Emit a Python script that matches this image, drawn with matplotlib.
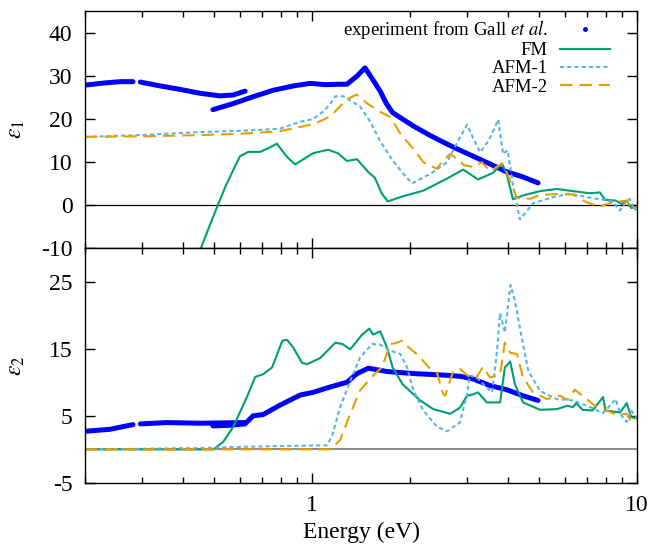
import numpy as np
import matplotlib
matplotlib.use('Agg')
import matplotlib.pyplot as plt
from matplotlib.lines import Line2D
from matplotlib.ticker import FixedLocator, NullFormatter

nan = np.nan

# ---- experiment (Gall et al.), eps1 ----
exp_e1_energy = [0.200, 0.230, 0.257, 0.281, nan, 0.296, 0.341, 0.393, 0.452, 0.521, 0.571, 0.622, nan,
                 0.495, 0.571, 0.658, 0.759, 0.874, 0.986, 1.10, 1.22, 1.28, 1.375, 1.455, 1.54, 1.62,
                 1.69, 1.77, 2.05, 2.31, 2.59, 2.85, 3.13, 3.53, 3.93, 4.45, 4.96]
exp_e1 = [27.8, 28.3, 28.6, 28.6, nan, 28.5, 27.6, 26.8, 25.9, 25.3, 25.5, 26.4, nan,
          22.1, 23.5, 25.1, 26.6, 27.6, 28.2, 27.9, 28.0, 28.0, 29.9, 31.8, 29.0, 26.4,
          23.6, 21.4, 18.3, 16.1, 14.2, 12.7, 11.3, 9.5, 7.8, 6.5, 5.1]

# ---- experiment, eps2 ----
exp_e2_energy = [0.200, 0.239, 0.281, nan, 0.296, 0.358, 0.45, 0.622, nan,
                 0.495, 0.56, 0.622, 0.658, 0.707, 0.797, 0.919, 1.007, 1.136, 1.28, 1.375, 1.49,
                 1.70, 2.05, 2.48, 2.85, 3.13, 3.53, 3.97, 4.45, 4.96]
exp_e2 = [2.7, 3.0, 3.7, nan, 3.8, 4.0, 3.9, 4.0, nan,
          3.5, 3.6, 3.8, 5.0, 5.2, 6.6, 8.1, 8.5, 9.3, 10.0, 11.3, 12.1,
          11.6, 11.3, 11.1, 10.9, 10.5, 9.5, 8.9, 8.0, 7.3]

# ---- FM ----
fm_e1_energy = [0.44, 0.455, 0.485, 0.513, 0.54, 0.571, 0.600, 0.636, 0.692, 0.735, 0.779, 0.838, 0.886,
                0.95, 1.007, 1.12, 1.20, 1.28, 1.375, 1.49, 1.56, 1.64, 1.71, 1.90, 2.2, 2.6, 2.92,
                3.24, 3.6, 3.84, 3.97, 4.15, 4.46, 5.03, 5.67, 6.35, 7.17, 7.69, 7.97, 8.6, 8.98,
                9.3, 9.6, 10.0]
fm_e1 = [-13.0, -10.0, -4.6, 0.0, 4.1, 8.0, 11.3, 12.3, 12.3, 13.2, 14.2, 11.1, 9.4,
         10.8, 12.0, 12.8, 12.0, 10.2, 10.6, 7.6, 6.3, 2.6, 0.8, 2.0, 3.3, 6.1, 8.2,
         5.9, 7.4, 9.6, 7.2, 1.3, 2.2, 3.2, 3.7, 3.2, 2.7, 2.9, 1.2, 1.0, 0.2,
         1.0, -0.7, -0.5]

fm_e2_energy = [0.2, 0.496, 0.532, 0.571, 0.63, 0.668, 0.707, 0.753, 0.81, 0.838, 0.874, 0.931, 0.965,
                1.058, 1.18, 1.24, 1.31, 1.42, 1.50, 1.54, 1.62, 1.70, 1.77, 1.90, 2.15, 2.36,
                2.66, 2.85, 3.0, 3.13, 3.24, 3.45, 3.79, 3.92, 4.07, 4.21, 4.46, 5.03, 5.67, 6.1,
                6.35, 6.5, 6.8, 7.3, 7.86, 8.0, 8.87, 9.3, 9.6, 10.0]
fm_e2 = [0.0, 0.0, 1.1, 3.3, 7.8, 10.8, 11.2, 12.2, 16.2, 16.3, 15.2, 12.9, 12.7,
         13.6, 15.9, 15.7, 14.9, 17.0, 18.0, 17.1, 17.6, 15.2, 12.2, 9.7, 7.3, 6.0,
         5.3, 6.2, 8.0, 8.2, 8.5, 7.0, 7.0, 12.2, 13.1, 9.7, 7.0, 5.9, 6.0, 6.5,
         6.3, 6.9, 5.9, 5.8, 7.8, 5.8, 5.5, 6.9, 4.8, 4.6]

# ---- AFM-1 ----
afm1_e1_energy = [0.2, 0.3, 0.452, 0.6, 0.727, 0.797, 0.919, 1.007, 1.058, 1.08, 1.136, 1.18, 1.25,
                  1.405, 1.51, 1.62, 1.77, 1.9, 2.03, 2.31, 2.6, 2.85, 3.0, 3.13, 3.29, 3.5, 3.74,
                  3.87, 4.0, 4.16, 4.36, 4.79, 5.52, 6.2, 7.0, 7.86, 8.4, 8.87, 9.2, 9.5, 9.8, 10.0]
afm1_e1 = [15.8, 16.2, 16.9, 17.2, 17.5, 17.7, 19.3, 19.9, 21.2, 21.6, 23.4, 25.2, 25.2,
           22.8, 19.3, 14.8, 10.3, 7.4, 5.0, 7.2, 9.9, 15.6, 18.6, 15.5, 12.2, 15.0, 19.8,
           11.8, 12.7, 4.1, -3.4, 0.4, 1.8, 2.6, 1.8, 1.2, 0.8, -1.3, 0.5, 1.4, -1.2, -1.0]

afm1_e2_energy = [0.2, 0.45, 0.63, 0.797, 1.058, 1.11, 1.15, 1.22, 1.31, 1.405, 1.53, 1.62, 1.74,
                  1.87, 1.96, 2.05, 2.2, 2.42, 2.6, 2.85, 3.0, 3.06, 3.21, 3.45, 3.58, 3.70, 3.79,
                  3.92, 4.08, 4.21, 4.42, 4.63, 5.03, 5.66, 6.35, 7.17, 7.86, 8.6, 8.87, 9.3, 9.6,
                  10.0]
afm1_e2 = [0.0, 0.2, 0.4, 0.5, 0.6, 0.6, 1.9, 6.3, 10.2, 13.7, 15.7, 15.6, 14.7,
           14.2, 12.2, 8.8, 5.8, 3.4, 2.7, 4.0, 8.3, 11.0, 10.7, 9.2, 8.5, 14.2, 20.3,
           17.4, 24.5, 22.1, 16.6, 11.7, 8.7, 7.5, 7.3, 6.3, 5.4, 7.5, 5.3, 4.1, 5.8,
           4.6]

# ---- AFM-2 ----
afm2_e1_energy = [0.2, 0.3, 0.452, 0.6, 0.727, 0.797, 0.919, 1.007, 1.136, 1.28, 1.37, 1.48, 1.62,
                  1.74, 1.87, 2.05, 2.2, 2.42, 2.53, 2.66, 2.85, 2.93, 3.13, 3.33, 3.53, 3.84, 3.97,
                  4.27, 4.69, 5.03, 5.67, 6.35, 7.0, 7.69, 8.4, 9.3, 9.6, 10.0]
afm2_e1 = [15.8, 15.9, 16.2, 16.5, 16.9, 17.1, 18.1, 18.7, 20.5, 24.5, 25.6, 23.5, 21.6,
           20.4, 16.5, 13.0, 9.9, 8.4, 10.3, 11.8, 10.2, 9.2, 8.8, 9.9, 7.8, 9.6, 7.6,
           1.6, 1.4, 2.3, 2.5, 2.4, 0.6, -0.4, 0.6, 1.0, -0.9, -0.5]

afm2_e2_energy = [0.2, 1.136, 1.22, 1.31, 1.405, 1.54, 1.64, 1.74, 1.8, 1.89, 1.96, 2.1, 2.31,
                  2.42, 2.53, 2.57, 2.71, 2.85, 3.06, 3.2, 3.36, 3.53, 3.79, 3.92, 4.07, 4.27,
                  4.46, 4.79, 5.28, 5.8, 6.1, 6.43, 7.0, 7.5, 8.06, 8.6, 9.3, 9.6, 10.0]
afm2_e2 = [0.0, 0.0, 1.4, 5.3, 8.8, 11.0, 12.2, 15.7, 15.8, 16.2, 15.4, 14.2, 12.0,
           11.5, 8.3, 8.0, 11.5, 12.0, 10.7, 10.7, 12.3, 10.7, 11.2, 15.9, 14.4, 14.2,
           10.7, 8.5, 7.5, 8.0, 7.4, 8.9, 7.5, 6.3, 5.8, 5.2, 5.3, 4.1, 4.6]

labels = [r'experiment from Gall $\mathit{et\ al}$.', 'FM', 'AFM-1', 'AFM-2']
c_exp, c_fm, c_afm1, c_afm2 = '#0000ff', '#009e73', '#56b4e9', '#e69f00'

plt.rcParams.update({'font.family': 'Liberation Serif', 'mathtext.fontset': 'stix',
                     'font.size': 17, 'lines.scale_dashes': False,
                     'axes.unicode_minus': False})

fig = plt.figure(figsize=(6.49, 5.46), dpi=100)
ax1 = fig.add_axes([0.131, 0.5458, 0.8505, 0.4341])
ax2 = fig.add_axes([0.131, 0.1154, 0.8505, 0.4304])

ax1.axhline(0, color='black', lw=0.9)
ax2.axhline(0, color='gray', lw=1.3)

ax1.plot(exp_e1_energy, exp_e1, color=c_exp, lw=3.6, solid_capstyle='round')
ax1.plot(fm_e1_energy, fm_e1, color=c_fm, lw=1.5)
ax1.plot(afm1_e1_energy, afm1_e1, color=c_afm1, lw=1.5, dashes=(3, 2.2))
ax1.plot(afm2_e1_energy, afm2_e1, color=c_afm2, lw=1.5, dashes=(9, 5))

ax2.plot(exp_e2_energy, exp_e2, color=c_exp, lw=3.6, solid_capstyle='round')
ax2.plot(fm_e2_energy, fm_e2, color=c_fm, lw=1.5)
ax2.plot(afm1_e2_energy, afm1_e2, color=c_afm1, lw=1.5, dashes=(3, 2.2))
ax2.plot(afm2_e2_energy, afm2_e2, color=c_afm2, lw=1.5, dashes=(9, 5))

minor = [0.2, 0.3, 0.4, 0.5, 0.6, 0.7, 0.8, 0.9, 2, 3, 4, 5, 6, 7, 8, 9]
for ax in (ax1, ax2):
    ax.set_xscale('log')
    ax.set_xlim(0.2, 10)
    ax.xaxis.set_major_locator(FixedLocator([1, 10]))
    ax.xaxis.set_minor_locator(FixedLocator(minor))
    ax.xaxis.set_minor_formatter(NullFormatter())
    ax.tick_params(which='both', direction='in', top=True, right=True, width=1, pad=9)
    ax.tick_params(which='major', length=7)
    ax.tick_params(which='minor', length=4)
    for s in ax.spines.values():
        s.set_linewidth(1.0)

ax1.set_ylim(-10, 45)
ax1.set_yticks([-10, 0, 10, 20, 30, 40])
ax1.set_xticklabels([])
ax1.set_ylabel(r'$\varepsilon_1$')
ax1.yaxis.set_label_coords(-0.105, 0.5)

ax2.set_ylim(-5, 30)
ax2.set_yticks([-5, 5, 15, 25])
ax2.set_xticklabels(['1', '10'])
ax2.set_ylabel(r'$\varepsilon_2$')
ax2.yaxis.set_label_coords(-0.105, 0.5)
ax2.set_xlabel('Energy (eV)', labelpad=4)

handles = [Line2D([], [], color=c_exp, marker='o', ms=2.5, ls='none'),
           Line2D([], [], color=c_fm, lw=1.5),
           Line2D([], [], color=c_afm1, lw=1.5, dashes=(3, 2.2)),
           Line2D([], [], color=c_afm2, lw=1.5, dashes=(9, 5))]
ax1.legend(handles, labels, loc='upper right', bbox_to_anchor=(0.951, 0.969),
           frameon=False, markerfirst=False, handlelength=2.67, labelspacing=0.05,
           handletextpad=0.64, borderaxespad=0, borderpad=0, fontsize=13.5)

fig.savefig('out.png', dpi=100)
